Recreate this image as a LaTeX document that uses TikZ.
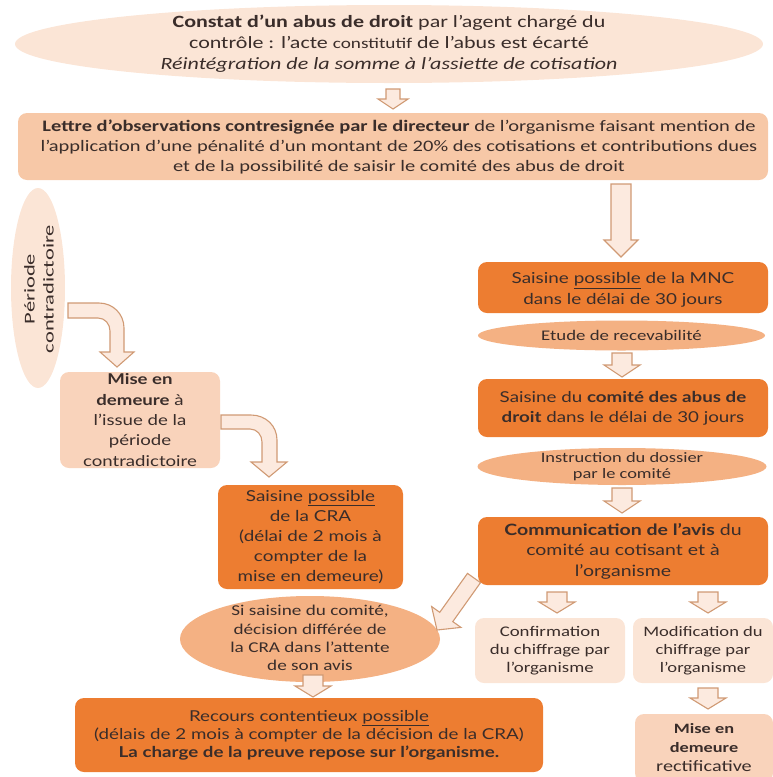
\documentclass[tikz,border=0pt]{standalone}
\usepackage{fontspec}
\setmainfont{Carlito}[FakeStretch=1.28]
\newfontfamily\boxfont{Lato}[FakeStretch=1.25]
\newfontfamily\perfont{Carlito}[FakeStretch=1.5]
\usetikzlibrary{shapes.geometric,calc}
\definecolor{txt}{HTML}{3A2D2A}
\definecolor{cdark}{HTML}{ED7D31}
\definecolor{cmed}{HTML}{F4B183}
\definecolor{clettre}{HTML}{F7C8A7}
\definecolor{cmise}{HTML}{F9D3BB}
\definecolor{cpale}{HTML}{FBE5D6}
\definecolor{arrline}{HTML}{D09A74}
\definecolor{arrfill}{HTML}{FCEADF}
\tikzset{
  box/.style={rectangle, rounded corners=9pt, inner sep=0pt, align=center, text=txt},
  darkbox/.style={box, fill=cdark},
  lettrebox/.style={box, fill=clettre},
  misebox/.style={box, fill=cmise},
  palebox/.style={box, fill=cpale},
  ell/.style={ellipse, inner sep=0pt},
  label/.style={align=center, text=txt, inner sep=0pt},
  barrow/.style n args={3}{draw=arrline, fill=arrfill, line width=1.1pt, line join=miter,
    to path={
      ($(\tikztostart)!#1!90:(\tikztotarget)$)
      -- ($(\tikztotarget)!#3!(\tikztostart)!#1!-90:(\tikztostart)$)
      -- ($(\tikztotarget)!#3!(\tikztostart)!#2!-90:(\tikztostart)$)
      -- (\tikztotarget)
      -- ($(\tikztotarget)!#3!(\tikztostart)!#2!90:(\tikztostart)$)
      -- ($(\tikztotarget)!#3!(\tikztostart)!#1!90:(\tikztostart)$)
      -- ($(\tikztostart)!#1!-90:(\tikztotarget)$)
      -- cycle}},
  curvarrow/.style={draw=arrline, fill=arrfill, line width=1.1pt, line join=miter},
}
\begin{document}
\begin{tikzpicture}[x=1pt,y=-1pt]
\useasboundingbox (0,0) rectangle (772,777);

% ---------- top ----------
\node[ell, fill=cpale, minimum width=748pt, minimum height=78pt] (top) at (389,44) {};
\node[label, font={\fontsize{17.2}{21}\selectfont}] (toptxt) at (389,44)
  {\textbf{Constat d’un abus de droit} par l’agent chargé du\\
   contrôle : l’acte {\fontsize{15}{21}\selectfont constitutif} de l’abus est écarté\\
   \textit{Réintégration de la somme à l’assiette de cotisation}};

\node[lettrebox, minimum width=750pt, minimum height=67pt] (lettre) at (393,146.5) {};
\node[label, font={\fontsize{16}{20}\selectfont}] (lettretxt) at (399,147)
  {\textbf{Lettre d’observations contresignée par le directeur} de l’organisme faisant mention de\\
   l’application d’une pénalité d’un montant de 20\% des cotisations et contributions dues\\
   et de la possibilité de saisir le comité des abus de droit};

% ---------- left column ----------
\node[ell, fill=cpale, minimum width=54pt, minimum height=200pt] (per) at (38,288) {};
\node[label, rotate=90, font={\perfont\fontsize{15}{19}\selectfont}] (pertxt) at (39,289) {Période\\contradictoire};

\node[misebox, minimum width=160pt, minimum height=96pt, font={\boxfont\fontsize{14.9}{20.3}\selectfont}] (mise) at (140,420)
  {\textbf{Mise en}\\ \textbf{demeure} à\\ l’issue de la\\ période\\ contradictoire};

\node[darkbox, minimum width=185pt, minimum height=104pt, font={\boxfont\fontsize{15.1}{20}\selectfont}] (cra) at (310.5,537)
  {Saisine \underline{possible}\\ de la CRA\\ (délai de 2 mois à\\ compter de la\\ mise en demeure)};

\node[ell, fill=cmed, minimum width=260pt, minimum height=86pt] (sis) at (310,639) {};
\node[label, font={\fontsize{15}{18.3}\selectfont}] (sistxt) at (310,638)
  {Si saisine du comité,\\ décision différée de\\ la CRA dans l'attente\\ de son avis};

\node[darkbox, minimum width=468pt, minimum height=74pt, font={\boxfont\fontsize{15}{18}\selectfont}] (recours) at (309,735)
  {Recours contentieux \underline{possible}\\ (délais de 2 mois à compter de la décision de la CRA)\\ \textbf{La charge de la preuve repose sur l’organisme.}};

% ---------- right column ----------
\node[darkbox, minimum width=290pt, minimum height=51pt] (mnc) at (623,287.5) {};
\node[label, font={\boxfont\fontsize{15.1}{20.5}\selectfont}] (mnctxt) at (623,290)
  {Saisine \underline{possible} de la MNC\\ dans le délai de 30 jours};

\node[ell, fill=cmed, minimum width=287pt, minimum height=30pt] (etude) at (621.5,335.5) {};
\node[label, font={\fontsize{14.7}{17}\selectfont}] (etudetxt) at (621.5,335.5) {Etude de recevabilité};

\node[darkbox, minimum width=290pt, minimum height=58pt, font={\boxfont\fontsize{15}{20}\selectfont}] (comite) at (623,408)
  {Saisine du \textbf{comité des abus de}\\ \textbf{droit} dans le délai de 30 jours};

\node[ell, fill=cmed, minimum width=289pt, minimum height=37pt] (instr) at (622,466.5) {};
\node[label, font={\fontsize{14.4}{16}\selectfont}] (instrtxt) at (622,466.5) {Instruction du dossier\\ par le comité};

\node[darkbox, minimum width=290pt, minimum height=68pt, font={\boxfont\fontsize{15.6}{20.5}\selectfont}] (comm) at (623,551)
  {\textbf{Communication de l’avis} du\\ comité au cotisant et à\\ l’organisme};

\node[palebox, minimum width=150pt, minimum height=65pt, font={\fontsize{14.7}{18}\selectfont}] (confirm) at (550,650.5)
  {Confirmation\\ du chiffrage par\\ l’organisme};

\node[palebox, minimum width=140pt, minimum height=65pt, font={\fontsize{14.5}{18}\selectfont}] (modif) at (703,650.5)
  {Modification du\\ chiffrage par\\ l’organisme};

\node[misebox, minimum width=138pt, minimum height=68pt, font={\fontsize{14.3}{19}\selectfont}] (rect) at (704,748)
  {\textbf{Mise en}\\ \textbf{demeure}\\ {\fontsize{15.8}{19}\selectfont rectificative}};

% ---------- straight block arrows ----------
\coordinate (a1s) at (393,89);   \coordinate (a1e) at (393,109);
\coordinate (a2s) at (621,184);  \coordinate (a2e) at (621,257);
\coordinate (a3s) at (622,353);  \coordinate (a3e) at (622,377);
\coordinate (a4s) at (622,488);  \coordinate (a4e) at (622,513);
\coordinate (a5s) at (557,592);  \coordinate (a5e) at (557,613);
\coordinate (a6s) at (708,592);  \coordinate (a6e) at (708,613);
\coordinate (a7s) at (708,688);  \coordinate (a7e) at (708,709);
\coordinate (a8s) at (313,675);  \coordinate (a8e) at (313,697);
\coordinate (a9s) at (474,578);  \coordinate (a9e) at (437,630);

\draw[barrow={7pt}{15pt}{10pt}] (a1s) to (a1e);
\draw[barrow={10pt}{17pt}{17pt}] (a2s) to (a2e);
\draw[barrow={10pt}{18pt}{12pt}] (a3s) to (a3e);
\draw[barrow={10pt}{18pt}{12pt}] (a4s) to (a4e);
\draw[barrow={10pt}{18pt}{11pt}] (a5s) to (a5e);
\draw[barrow={10pt}{18pt}{11pt}] (a6s) to (a6e);
\draw[barrow={10pt}{18pt}{11pt}] (a7s) to (a7e);
\draw[barrow={10pt}{18pt}{11pt}] (a8s) to (a8e);
\draw[barrow={8pt}{18pt}{16pt}] (a9s) to (a9e);

% ---------- bent block arrows ----------
\draw[curvarrow] (68,303) -- (99,303) .. controls (113,303) and (124,314) .. (124,328)
  -- (124,352) -- (134,352) -- (117,367) -- (100,352) -- (110,352) -- (110,331)
  .. controls (110,324) and (105,318) .. (98,318) -- (68,318) -- cycle;
\draw[curvarrow] (221,415) -- (251,415) .. controls (266,415) and (277,426) .. (277,440)
  -- (277,462) -- (287,462) -- (269,477) -- (251,462) -- (262,462) -- (262,442)
  .. controls (262,435) and (257,429) .. (250,429) -- (221,429) -- cycle;
\end{tikzpicture}
\end{document}
